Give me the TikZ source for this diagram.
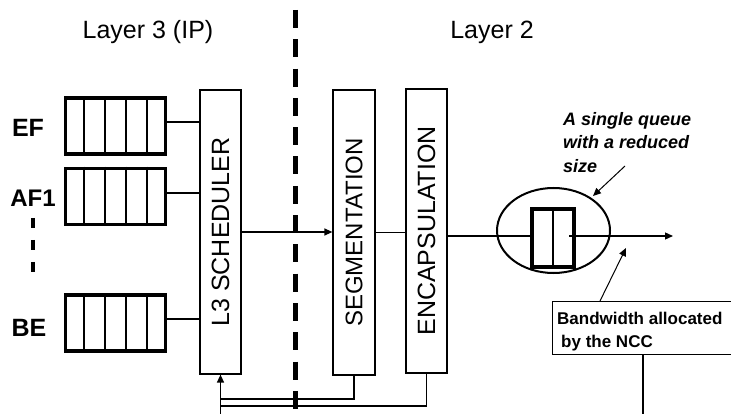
\documentclass[tikz,border=0pt]{standalone}
\usepackage{fontspec}
\setmainfont{Liberation Sans}
\usetikzlibrary{arrows.meta,calc,shapes.geometric}
\begin{document}
\begin{tikzpicture}[x=1pt,y=-1pt,
  box/.style={draw,line width=1.2pt,inner sep=0pt},
  qbox/.style={draw,line width=3.8pt,minimum width=100pt,minimum height=56pt,inner sep=0pt},
  cell/.style={line width=2pt},
  conn/.style={line width=1.3pt},
  arr/.style={line width=1.3pt,-{Triangle[length=8pt,width=7pt]}},
  big/.style={font=\fontsize{25}{30}\selectfont,inner sep=0pt},
  vtext/.style={rotate=90,font=\fontsize{25}{30}\selectfont,inner sep=0pt},
]
\useasboundingbox (0,0) rectangle (731,414);
\clip (0,0) rectangle (731,414);

% titles
\node[big,anchor=base] (t3) at (148,39) {Layer 3 (IP)};
\node[big,anchor=base] (t2) at (492,39) {Layer 2};

% class labels
\node[big,font=\fontsize{25}{30}\selectfont\bfseries,anchor=base] (lef) at (28,137) {EF};
\node[big,font=\fontsize{24}{30}\selectfont\bfseries,anchor=base] (laf) at (33,207) {AF1};
\node[big,font=\fontsize{25}{30}\selectfont\bfseries,anchor=base] (lbe) at (29,336) {BE};
\coordinate (d1) at (33,218);
\coordinate (d2) at (33,273);
\draw[line width=3.5pt,dash pattern=on 10pt off 12pt] (d1) -- (d2);

% queues
\node[qbox] (efq) at (115.5,126) {};
\node[qbox] (afq) at (115.5,196.5) {};
\node[qbox] (beq) at (115.5,323) {};
\foreach \q in {efq,afq,beq}{
  \foreach \i in {1,2,3,4}{
    \draw[cell] ($(\q.north west)!\i/5!(\q.north east)$) -- ($(\q.south west)!\i/5!(\q.south east)$);
  }
}

% processing blocks
\node[box,minimum width=41pt,minimum height=284pt] (sched) at (220.5,232) {};
\node[vtext] (schedt) at (sched.center) {L3 SCHEDULER};
\node[box,minimum width=42pt,minimum height=285pt] (seg) at (354,232.5) {};
\node[vtext,font=\fontsize{24}{29}\selectfont] (segt) at (seg.center) {SEGMENTATION};
\node[box,minimum width=41pt,minimum height=284pt] (enc) at (426.5,231) {};
\node[vtext] (enct) at (enc.center) {ENCAPSULATION};

% queue -> scheduler
\draw[conn] ([yshift=4pt]efq.east) -- ([yshift=4pt]efq.east -| sched.west);
\draw[conn] ([yshift=3.5pt]afq.east) -- ([yshift=3.5pt]afq.east -| sched.west);
\draw[conn] ([yshift=4pt]beq.east) -- ([yshift=4pt]beq.east -| sched.west);

% chain
\draw[arr] (sched.east) -- (sched.east -| seg.west);
\draw[conn] (seg.east) -- (seg.east -| enc.west);

% single queue in ellipse
\node[draw,ellipse,line width=2pt,minimum width=113pt,minimum height=85pt,inner sep=0pt] (el) at (553.5,230.5) {};
\node[draw,line width=3.2pt,minimum width=42pt,minimum height=58pt,inner sep=0pt] (sq) at (553,238) {};
\draw[line width=1.5pt] (sq.north) -- (sq.south);
\draw[conn] ([yshift=-5pt]enc.east) -- ([yshift=-5pt]enc.east -| sq.west);
\coordinate (qo) at (569,236);
\coordinate (out) at (673,236);
\draw[arr] (qo) -- (out);

% annotation
\node[anchor=north west,align=left,inner sep=0pt,font=\fontsize{18}{23.5}\selectfont\bfseries\itshape] (note) at (563,112) {A single queue\\with a reduced\\size};
\coordinate (n1) at (625,166);
\coordinate (n2) at (593,196);
\draw[arr,line width=1pt] (n1) -- (n2);

% bandwidth box
\node[box,anchor=north west,minimum width=200pt,minimum height=53pt] (bw) at (552,301) {};
\node[anchor=north west,align=left,inner sep=0pt,font=\fontsize{17}{22.5}\selectfont\bfseries] (bwt) at (557,312) {Bandwidth allocated\\\hspace{4pt}by the NCC};
\coordinate (b1) at (600,301);
\coordinate (b2) at (626,248);
\draw[arr,line width=1pt] (b1) -- (b2);
\coordinate (b3) at (643,354);
\coordinate (b4) at (643,414);
\draw[conn] (b3) -- (b4);

% feedback to scheduler
\coordinate (fb) at (220.5,414);
\coordinate (f1) at (220.5,399);
\coordinate (f2) at (220.5,406);
\draw[arr] (fb) -- (sched.south);
\draw[conn] (seg.south) |- (f1);
\draw[conn] (enc.south) |- (f2);

% layer boundary
\coordinate (l1) at (295,10);
\coordinate (l2) at (295,414);
\draw[line width=5pt,dash pattern=on 18pt off 11.3pt] (l1) -- (l2);
\end{tikzpicture}
\end{document}
